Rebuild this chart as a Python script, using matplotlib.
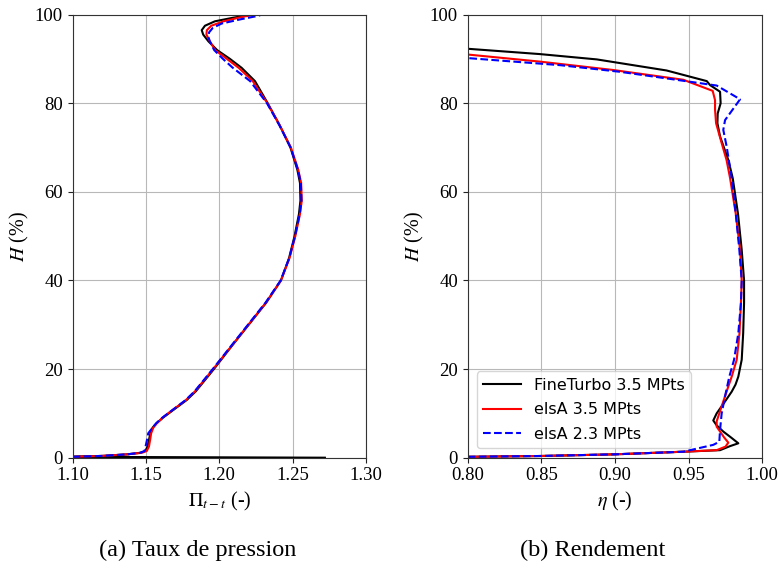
import matplotlib
matplotlib.use("Agg")
import matplotlib.pyplot as plt

# ---------------- data ----------------
series_labels = ["FineTurbo 3.5 MPts", "elsA 3.5 MPts", "elsA 2.3 MPts"]

# (a) pressure ratio vs H
h_pi_ft = [0.0, 0.2, 0.4, 0.75, 1.1, 1.5, 2.5, 4.0, 5.5, 6.8, 7.8, 9.0, 10.0, 13.0, 15.0, 20.0, 25.0, 30.0,
           35.0, 40.0, 45.0, 50.0, 55.0, 58.0, 62.0, 65.0, 70.0, 75.0, 80.0, 85.0, 88.0, 90.0, 92.0, 94.0,
           95.5, 96.5, 97.5, 98.5, 99.3, 100.0, 100.0]
pi_ft = [1.272, 1.100, 1.120, 1.137, 1.146, 1.1495, 1.151, 1.152, 1.153, 1.1545, 1.1573, 1.1615, 1.1655,
         1.1777, 1.1840, 1.1963, 1.2080, 1.2200, 1.2320, 1.2420, 1.2475, 1.2513, 1.2543, 1.2553, 1.2550,
         1.2532, 1.2485, 1.2412, 1.2330, 1.2243, 1.2152, 1.2073, 1.1985, 1.1925, 1.1890, 1.1880, 1.1902,
         1.1970, 1.2093, 1.2220, 1.1460]

h_pi_e35 = [0.2, 0.4, 0.75, 1.1, 1.5, 2.5, 4.0, 5.5, 6.8, 7.8, 9.0, 10.0, 13.0, 15.0, 20.0, 25.0, 30.0,
            35.0, 40.0, 45.0, 50.0, 55.0, 58.0, 62.0, 65.0, 70.0, 75.0, 80.0, 85.0, 88.0, 90.0, 92.0, 94.0,
            95.5, 96.5, 97.5, 98.5, 99.3, 100.0]
pi_e35 = [1.100, 1.120, 1.137, 1.147, 1.1505, 1.152, 1.1528, 1.1535, 1.155, 1.1575, 1.1612, 1.1650, 1.1772,
          1.1835, 1.1958, 1.2078, 1.2198, 1.2318, 1.2420, 1.2478, 1.2518, 1.2550, 1.2562, 1.2558, 1.2538,
          1.2488, 1.2412, 1.2328, 1.2228, 1.2132, 1.2052, 1.1972, 1.1935, 1.1912, 1.1915, 1.1945, 1.2030,
          1.2130, 1.2235]

h_pi_e23 = [0.2, 0.4, 0.75, 1.1, 1.5, 3.0, 4.5, 5.5, 7.0, 7.8, 9.0, 10.0, 13.0, 15.0, 20.0, 25.0, 30.0,
            35.0, 40.0, 45.0, 50.0, 55.0, 58.0, 62.0, 65.0, 70.0, 75.0, 80.0, 85.0, 88.0, 90.0, 92.0, 94.0,
            95.0, 96.0, 97.0, 98.0, 99.0, 99.7, 100.0, 100.0]
pi_e23 = [1.100, 1.120, 1.137, 1.146, 1.149, 1.150, 1.151, 1.1515, 1.155, 1.157, 1.1610, 1.1650, 1.1770,
          1.1832, 1.1955, 1.2075, 1.2195, 1.2315, 1.2418, 1.2476, 1.2516, 1.2548, 1.2560, 1.2556, 1.2536,
          1.2486, 1.2410, 1.2325, 1.2210, 1.2092, 1.2025, 1.1965, 1.1935, 1.1925, 1.1930, 1.1955, 1.2016,
          1.2152, 1.2260, 1.2289, 1.1540]

# (b) efficiency vs H
h_eta_ft = [0.2, 0.38, 0.76, 1.35, 1.7, 2.6, 3.25, 4.5, 5.9, 7.3, 8.4, 10.0, 12.7, 14.9, 16.5, 18.3, 22.1,
            28.1, 35.0, 40.0, 46.9, 55.0, 63.1, 67.2, 72.5, 75.5, 77.7, 80.0, 82.6, 84.1, 85.0, 87.4, 89.9,
            91.1, 92.3]
eta_ft = [0.800, 0.849, 0.900, 0.9464, 0.9713, 0.978, 0.9837, 0.979, 0.9735, 0.969, 0.9667, 0.969, 0.9747,
          0.9792, 0.9818, 0.9837, 0.9860, 0.9870, 0.9876, 0.9876, 0.9860, 0.9835, 0.9799, 0.9769, 0.9713,
          0.9695, 0.9697, 0.9717, 0.9713, 0.9645, 0.9623, 0.935, 0.8876, 0.849, 0.800]

h_eta_e35 = [0.2, 0.38, 0.76, 1.35, 1.7, 2.5, 3.4, 4.6, 5.9, 7.0, 8.2, 10.0, 13.9, 18.3, 22.1, 28.1, 35.0,
             40.0, 46.9, 55.0, 63.1, 67.2, 71.0, 75.5, 78.5, 80.7, 82.8, 85.3, 87.5, 89.4, 91.0]
eta_e35 = [0.800, 0.849, 0.900, 0.9464, 0.9690, 0.975, 0.9769, 0.974, 0.9713, 0.969, 0.969, 0.9708, 0.9747,
           0.9792, 0.9826, 0.9845, 0.9855, 0.986, 0.9849, 0.982, 0.9781, 0.9757, 0.9724, 0.9686, 0.9679,
           0.9679, 0.9663, 0.9464, 0.8989, 0.849, 0.800]

h_eta_e23 = [0.2, 0.38, 0.76, 1.35, 1.7, 2.9, 3.6, 6.3, 10.0, 13.9, 18.3, 22.1, 28.1, 35.0, 40.0, 46.9,
             55.0, 63.1, 70.2, 74.0, 76.2, 80.9, 84.0, 84.9, 87.1, 88.6, 90.2]
eta_e23 = [0.800, 0.849, 0.900, 0.9464, 0.951, 0.9667, 0.9708, 0.9713, 0.9724, 0.9747, 0.9776, 0.9808,
           0.9837, 0.9855, 0.986, 0.9844, 0.982, 0.9792, 0.9758, 0.9735, 0.9747, 0.9849, 0.9690, 0.9500,
           0.9034, 0.8627, 0.800]

pi_ticks = [1.10, 1.15, 1.20, 1.25, 1.30]
eta_ticks = [0.80, 0.85, 0.90, 0.95, 1.00]
h_ticks = [0, 20, 40, 60, 80, 100]
captions = ["(a) Taux de pression", "(b) Rendement"]

# ---------------- style ----------------
plt.rcParams["font.family"] = ["Liberation Serif", "DejaVu Serif"]
plt.rcParams["mathtext.fontset"] = "stix"
colors = ["black", "red", "blue"]
styles = ["-", "-", "--"]
lw = 1.5

fig = plt.figure(figsize=(7.79, 5.68), dpi=100)
axL = fig.add_axes([0.0933, 0.1942, 0.3765, 0.7800])
axR = fig.add_axes([0.6004, 0.1942, 0.3782, 0.7800])

pi_data = [(pi_ft, h_pi_ft), (pi_e35, h_pi_e35), (pi_e23, h_pi_e23)]
eta_data = [(eta_ft, h_eta_ft), (eta_e35, h_eta_e35), (eta_e23, h_eta_e23)]

for (x, y), c, s, lab in zip(pi_data, colors, styles, series_labels):
    axL.plot(x, y, color=c, ls=s, lw=lw, label=lab)
for (x, y), c, s, lab in zip(eta_data, colors, styles, series_labels):
    axR.plot(x, y, color=c, ls=s, lw=lw, label=lab)

for ax, xt, xl in [(axL, pi_ticks, r"$\Pi_{t-t}$ (-)"), (axR, eta_ticks, r"$\eta$ (-)")]:
    ax.set_xlim(xt[0], xt[-1])
    ax.set_ylim(0, 100)
    ax.set_xticks(xt)
    ax.set_xticklabels([f"{v:.2f}" for v in xt])
    ax.set_yticks(h_ticks)
    ax.grid(True, color="#b8b8b8", lw=0.8)
    ax.tick_params(labelsize=13.5, colors="#222222", labelcolor="black")
    for sp in ax.spines.values():
        sp.set_color("#333333")
    ax.set_xlabel(xl, fontsize=14.5, labelpad=4)
    ax.set_ylabel(r"$H$ (%)", fontsize=14.5, labelpad=3)

leg = axR.legend(loc="lower left", bbox_to_anchor=(0.03, 0.021), borderaxespad=0,
                 prop={"family": "DejaVu Sans", "size": 11.5}, handlelength=2.4, labelspacing=0.6)

fig.text(198 / 779, 1 - 550 / 568, captions[0], ha="center", va="center", fontsize=17.5)
fig.text(593 / 779, 1 - 550 / 568, captions[1], ha="center", va="center", fontsize=17.5)

fig.savefig("out.png", dpi=100)
